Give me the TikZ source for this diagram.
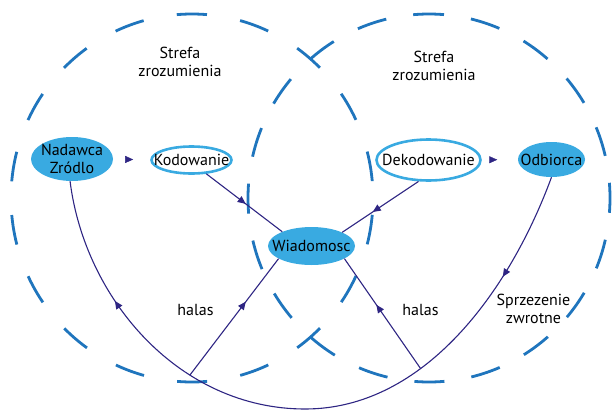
\documentclass[tikz,border=0pt]{standalone}
\usepackage{fontspec}
\setmainfont{PT Sans}
\usetikzlibrary{shapes.geometric,arrows.meta,decorations.markings}
\definecolor{nodeblue}{RGB}{57,170,225}
\definecolor{zoneblue}{RGB}{31,117,189}
\definecolor{lineind}{RGB}{46,37,131}
\tikzset{
  mytri/.tip={Triangle[length=8pt,width=7pt]},
  filled/.style={ellipse, fill=nodeblue, inner sep=0pt},
  ring/.style={ellipse, draw=nodeblue, line width=2.6pt, fill=white, inner sep=0pt},
  conn/.style={draw=lineind, color=lineind, line width=1.1pt},
  zone/.style={draw=zoneblue, line width=2.8pt},
  txt/.style={font=\fontsize{16}{18}\selectfont, align=center, text=black, inner sep=0pt},
  mid/.style={postaction={decorate}, decoration={markings, mark=at position #1 with {\arrow{mytri}}}},
  twomid/.style 2 args={postaction={decorate}, decoration={markings,
      mark=at position #1 with {\arrow{mytri}},
      mark=at position #2 with {\arrow{mytri}}}}
}
\begin{document}
\begin{tikzpicture}[x=1pt,y=-1pt]
\useasboundingbox (0,0) rectangle (613,410);
% zones of understanding
\draw[zone, dash pattern=on 30pt off 33.7pt, dash phase=15pt] (192,14) arc[start angle=270, end angle=630, x radius=181, y radius=184];
\draw[zone, dash pattern=on 30pt off 27.3pt, dash phase=15pt] (429,14) arc[start angle=270, end angle=630, x radius=181, y radius=184];
% nodes
\node[filled, minimum width=82pt, minimum height=44pt, label={[txt]center:{Nadawca\\Zródlo}}] (nad) at (72,159) {};
\node[ring, minimum width=80pt, minimum height=27pt, label={[txt]center:Kodowanie}] (kod) at (191.5,160) {};
\node[ring, minimum width=104pt, minimum height=41pt, label={[txt]center:Dekodowanie}] (dek) at (428.5,160) {};
\node[filled, minimum width=67pt, minimum height=35pt, label={[txt]center:Odbiorca}] (odb) at (551.5,159.5) {};
\node[filled, minimum width=87pt, minimum height=38pt, label={[txt]center:Wiadomosc}] (wia) at (311.5,246) {};
\coordinate (bot) at (305,409);
% texts
\node[txt] (s1) at (180,62) {Strefa\\zrozumienia};
\node[txt] (s2) at (434,66) {Strefa\\zrozumienia};
\node[txt, anchor=base] (n1) at (195.5,315) {halas};
\node[txt, anchor=base] (n2) at (420.5,315) {halas};
\node[txt] (fb) at (533.5,308.5) {Sprzezenie\\zwrotne};
% connectors
\path[color=lineind, mid=0.54] (nad) -- (kod);
\path[color=lineind, mid=0.43] (dek) -- (odb);
\draw[conn, mid=0.52] (kod.317) -- (wia.154);
\draw[conn, mid=0.6] (dek.245) -- (wia.24);
\draw[conn, twomid={0.155}{0.82}] (odb.south) .. controls (510,290) and (425,409) .. coordinate[pos=0.64] (h2) (bot)
   .. controls (180,409) and (85,300) .. coordinate[pos=0.34] (h1) (nad.265);
\draw[conn, mid=0.63] (h1) -- (wia.201);
\draw[conn, mid=0.58] (h2) -- (wia.339);
\end{tikzpicture}
\end{document}
